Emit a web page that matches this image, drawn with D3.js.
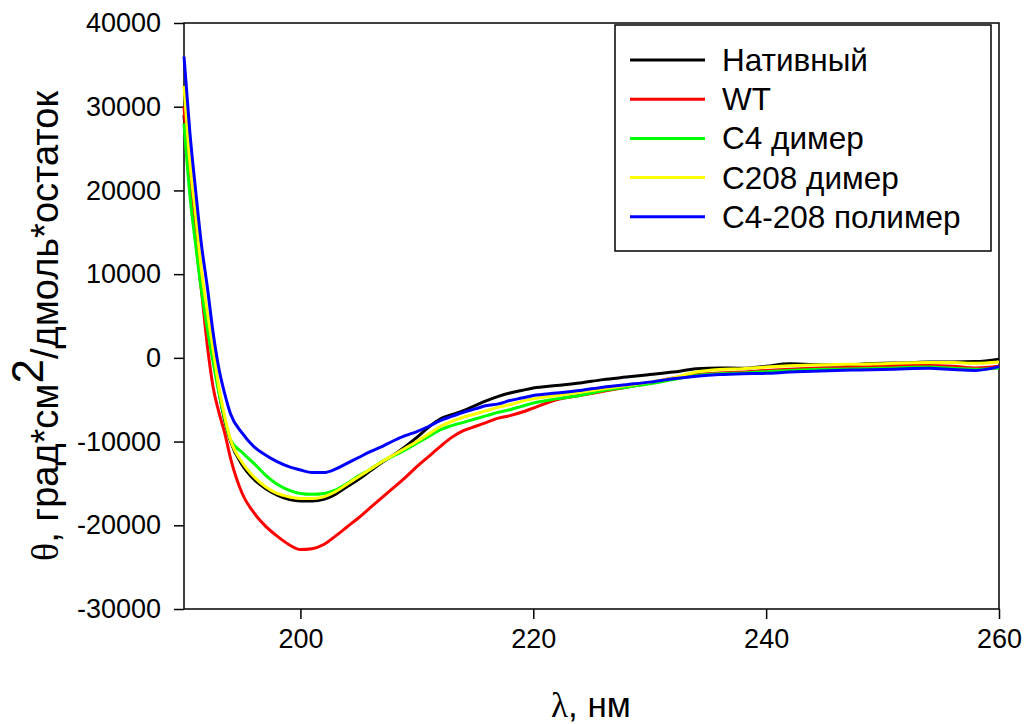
<!DOCTYPE html>
<html>
<head>
<meta charset="utf-8">
<script src="https://cdn.jsdelivr.net/npm/d3@7"></script>
<style>
  body { margin: 0; background: #fff; }
  text { font-family: Arial, "Liberation Sans", sans-serif; fill: #000; }
  .serif { font-family: "Times New Roman", "Liberation Serif", serif; }
</style>
</head>
<body>
<svg id="chart" width="1025" height="724"></svg>
<script>
// wavelengths, nm
const wavelengths = [190, 190.5, 191, 191.5, 192, 192.5, 193, 193.5, 194, 195, 196, 197, 198, 199, 200,
  201, 202, 203, 204, 205, 206, 207, 208, 209, 210, 211, 212, 213, 214, 215, 216, 217, 218, 219, 220,
  222, 224, 226, 228, 230, 232, 234, 236, 238, 240, 242, 244, 246, 248, 250, 252, 254, 256, 258, 260];

const nativeVals = [29000, 21000, 15000, 9500, 5000, 500, -4000, -7500, -10000, -12800, -14500, -15600, -16400, -16900, -17100,
  -17100, -16900, -16300, -15400, -14500, -13500, -12500, -11600, -10600, -9500, -8300, -7300, -6800, -6300, -5700, -5100, -4600, -4200, -3900, -3600,
  -3300, -3000, -2600, -2300, -2000, -1700, -1300, -1200, -1250, -1000, -700, -800, -850, -750, -650, -600, -500, -500, -450, -150];

const wtVals = [30000, 20500, 14000, 8000, 1500, -3500, -6500, -9000, -12000, -16200, -18500, -20100, -21300, -22300, -22900,
  -22800, -22300, -21300, -20200, -19100, -17900, -16700, -15500, -14300, -13000, -11800, -10600, -9500, -8700, -8200, -7700, -7200, -6900, -6500, -6000,
  -5000, -4500, -4000, -3500, -3000, -2400, -2000, -1800, -1700, -1500, -1350, -1250, -1200, -1100, -1000, -900, -900, -1000, -1200, -1000];

const c4Vals = [28000, 19500, 13500, 8000, 3500, -500, -4200, -7300, -9800, -11300, -12600, -14000, -15100, -15800, -16200,
  -16300, -16200, -15800, -15000, -14100, -13300, -12400, -11700, -11000, -10200, -9400, -8600, -8100, -7700, -7300, -6900, -6500, -6200, -5800, -5400,
  -4900, -4500, -3900, -3500, -3100, -2600, -2100, -1900, -1800, -1650, -1500, -1400, -1350, -1300, -1250, -1150, -1100, -1250, -1350, -1200];

const c208Vals = [32500, 23500, 17000, 10500, 5500, 1000, -3500, -7000, -9800, -12500, -14200, -15400, -16200, -16600, -16800,
  -16800, -16600, -16000, -15100, -14200, -13300, -12400, -11600, -10800, -10000, -9100, -8200, -7600, -7100, -6700, -6300, -5900, -5600, -5200, -4900,
  -4500, -4100, -3700, -3300, -2900, -2400, -1700, -1400, -1300, -1100, -950, -850, -800, -750, -700, -600, -550, -550, -650, -500];

const polymerVals = [36000, 27000, 20000, 13500, 8500, 3000, -1300, -4300, -6700, -9000, -10600, -11600, -12400, -13000, -13400,
  -13700, -13700, -13300, -12600, -11900, -11200, -10600, -9900, -9300, -8800, -8200, -7500, -7000, -6500, -6100, -5700, -5500, -5100, -4800, -4500,
  -4200, -3900, -3500, -3200, -2900, -2500, -2200, -2000, -1900, -1850, -1700, -1600, -1500, -1450, -1400, -1300, -1250, -1400, -1500, -1050];

const seriesNames = ["Нативный", "WT", "C4 димер", "C208 димер", "C4-208 полимер"];
const seriesColors = ["#000000", "#ff0000", "#00ff00", "#ffff00", "#0000ff"];
const seriesValues = [nativeVals, wtVals, c4Vals, c208Vals, polymerVals];

const xTicks = [200, 220, 240, 260];
const yTicks = [-30000, -20000, -10000, 0, 10000, 20000, 30000, 40000];

const svg = d3.select("#chart");
const margin = { top: 23, right: 26, bottom: 115, left: 184 };
const width = +svg.attr("width");
const height = +svg.attr("height");

const x = d3.scaleLinear().domain([190, 260]).range([margin.left, width - margin.right]);
const y = d3.scaleLinear().domain([-30000, 40000]).range([height - margin.bottom, margin.top]);

// plain hyphen for negatives, like the original
const fmt = d => String(d);

const xAxis = svg.append("g")
  .attr("transform", `translate(0,${height - margin.bottom})`)
  .call(d3.axisBottom(x).tickValues(xTicks).tickSize(10).tickPadding(10).tickFormat(fmt));
const yAxis = svg.append("g")
  .attr("transform", `translate(${margin.left},0)`)
  .call(d3.axisLeft(y).tickValues(yTicks).tickSize(10).tickPadding(13).tickFormat(fmt));

[xAxis, yAxis].forEach(g => {
  g.select(".domain").remove();
  g.selectAll(".tick line").attr("stroke", "#000").attr("stroke-width", 1.5);
  g.selectAll(".tick text").attr("font-size", 27).attr("font-family", "Arial, 'Liberation Sans', sans-serif");
});

// frame
svg.append("rect")
  .attr("x", x(190)).attr("y", y(40000))
  .attr("width", x(260) - x(190)).attr("height", y(-30000) - y(40000))
  .attr("fill", "none").attr("stroke", "#000").attr("stroke-width", 1.5);

// curves
const line = d3.line()
  .x((d, i) => x(wavelengths[i]))
  .y(d => y(d))
  .curve(d3.curveMonotoneX);

svg.append("g")
  .selectAll("path")
  .data(seriesValues)
  .join("path")
  .attr("fill", "none")
  .attr("stroke", (d, i) => seriesColors[i])
  .attr("stroke-width", 3)
  .attr("stroke-linejoin", "round")
  .attr("d", line);

// legend
const legend = svg.append("g");
legend.append("rect")
  .attr("x", 615).attr("y", 25).attr("width", 376).attr("height", 226)
  .attr("fill", "#fff").attr("stroke", "#000").attr("stroke-width", 1.5);

const rows = legend.selectAll("g.row")
  .data(seriesNames)
  .join("g")
  .attr("class", "row")
  .attr("transform", (d, i) => `translate(0,${60 + i * 39.2})`);
rows.append("line")
  .attr("x1", 630).attr("x2", 705)
  .attr("stroke", (d, i) => seriesColors[i]).attr("stroke-width", 3);
rows.append("text")
  .attr("x", 722).attr("dy", "0.35em")
  .attr("font-size", 31.5)
  .text(d => d);

// axis titles
const xt = svg.append("text")
  .attr("x", 591).attr("y", 717)
  .attr("text-anchor", "middle").attr("font-size", 35);
xt.append("tspan").attr("class", "serif").text("λ");
xt.append("tspan").text(", нм");

const yt = svg.append("text")
  .attr("transform", `translate(58,${(y(40000) + y(-30000)) / 2 + 10}) rotate(-90)`)
  .attr("text-anchor", "middle").attr("font-size", 38);
yt.append("tspan").attr("class", "serif").text("θ");
yt.append("tspan").text(", град*см");
yt.append("tspan").attr("dy", -15).attr("font-size", 44).text("2");
yt.append("tspan").attr("dy", 15).text("/дмоль*остаток");
</script>
</body>
</html>
